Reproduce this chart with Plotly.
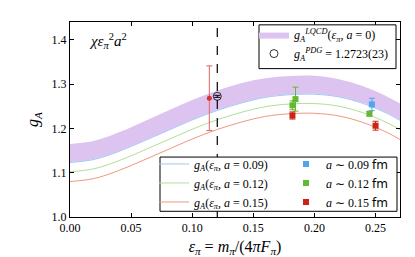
import plotly.graph_objects as go

# ---- data ----
eps_grid = [0.0, 0.02, 0.04, 0.06, 0.08, 0.10, 0.12, 0.14, 0.16, 0.18, 0.20, 0.22, 0.24, 0.26, 0.27]
band_upper = [1.165, 1.172, 1.191, 1.215, 1.240, 1.264, 1.285, 1.302, 1.313, 1.318, 1.319, 1.311, 1.295, 1.271, 1.256]
band_lower = [1.124, 1.131, 1.149, 1.172, 1.196, 1.220, 1.241, 1.258, 1.271, 1.277, 1.278, 1.272, 1.257, 1.234, 1.219]
fit_a09 = [1.123, 1.130, 1.148, 1.171, 1.195, 1.219, 1.240, 1.257, 1.270, 1.276, 1.277, 1.271, 1.256, 1.233, 1.218]
fit_a12 = [1.102, 1.109, 1.127, 1.150, 1.174, 1.198, 1.219, 1.236, 1.249, 1.255, 1.256, 1.250, 1.235, 1.212, 1.197]
fit_a15 = [1.080, 1.087, 1.105, 1.128, 1.152, 1.176, 1.197, 1.214, 1.227, 1.233, 1.234, 1.228, 1.213, 1.190, 1.175]

a09_x = [0.247]
a09_y = [1.254]
a09_err = [0.014]
a12_x = [0.182, 0.1845, 0.245]
a12_y = [1.252, 1.266, 1.233]
a12_err = [0.010, 0.027, 0.005]
a15_x = [0.182, 0.250]
a15_y = [1.229, 1.206]
a15_err = [0.008, 0.010]

extra_x = [0.114]
extra_y = [1.268]
extra_err = [0.073]

eps_phys = 0.1205
pdg_val = 1.2723
pdg_err = 0.0023

x_ticks = [0.0, 0.05, 0.10, 0.15, 0.20, 0.25]
y_ticks = [1.0, 1.1, 1.2, 1.3, 1.4]

SERIF = "Liberation Serif"
fig = go.Figure()

# band (a=0)
fig.add_trace(go.Scatter(x=eps_grid, y=band_lower, mode="lines", line=dict(width=0, shape="spline"),
                         showlegend=False, hoverinfo="skip"))
fig.add_trace(go.Scatter(x=eps_grid, y=band_upper, mode="lines", line=dict(width=0, shape="spline"),
                         fill="tonexty", fillcolor="rgb(221,195,240)",
                         name="<i>g</i><sub><i>A</i></sub><sup><i>LQCD</i></sup>(<i>ε</i><sub><i>π</i></sub>, <i>a</i> = 0)",
                         legend="legend"))

# fit curves
for ys, col, lab in [(fit_a09, "rgb(160,200,245)", "0.09"),
                     (fit_a12, "rgb(180,222,150)", "0.12"),
                     (fit_a15, "rgb(240,150,130)", "0.15")]:
    fig.add_trace(go.Scatter(x=eps_grid, y=ys, mode="lines",
                             line=dict(color=col, width=1, shape="spline"),
                             name=f"<i>g</i><sub><i>A</i></sub>(<i>ε</i><sub><i>π</i></sub>, <i>a</i> = {lab})",
                             legend="legend2"))

# extra red point
fig.add_trace(go.Scatter(x=extra_x, y=extra_y, mode="markers",
                         marker=dict(color="rgb(215,50,50)", size=5, symbol="circle"),
                         error_y=dict(type="data", array=extra_err, color="rgb(225,100,100)",
                                      thickness=1, width=3),
                         showlegend=False))

# data points
for xs, ys, es, col, lab in [(a09_x, a09_y, a09_err, "rgb(80,165,240)", "0.09"),
                             (a12_x, a12_y, a12_err, "rgb(100,185,50)", "0.12"),
                             (a15_x, a15_y, a15_err, "rgb(205,35,20)", "0.15")]:
    fig.add_trace(go.Scatter(x=xs, y=ys, mode="markers",
                             marker=dict(color=col, size=6, symbol="square"),
                             error_y=dict(type="data", array=es, color=col, thickness=1, width=3),
                             name=f"<i>a</i> ∼ {lab} <span style='font-family:DejaVu Sans'>fm</span>",
                             legend="legend3"))

# PDG point
fig.add_trace(go.Scatter(x=[eps_phys], y=[pdg_val], mode="markers",
                         marker=dict(color="rgba(0,0,0,0)", size=8, symbol="circle",
                                     line=dict(color="black", width=0.8)),
                         error_y=dict(type="data", array=[pdg_err], color="black", thickness=1, width=3),
                         name="<i>g</i><sub><i>A</i></sub><sup><i>PDG</i></sup> = 1.2723(23)",
                         legend="legend"))

# dashed physical point line
fig.add_shape(type="line", xref="x", yref="paper", x0=eps_phys, x1=eps_phys, y0=0, y1=1,
              line=dict(color="black", width=1.2, dash="dash"), layer="above")

# legend boxes
def px2paper(px, py):
    return (px - 62) / 330, (218 - py) / 205

bx0, by0 = px2paper(251, 16)
bx1, by1 = px2paper(388, 62)
fig.add_shape(type="rect", xref="paper", yref="paper", x0=bx0, y0=by1, x1=bx1, y1=by0,
              line=dict(color="black", width=1), fillcolor="white", layer="above")
cx0, cy0 = px2paper(152, 155)
cx1, cy1 = px2paper(389, 212)
fig.add_shape(type="rect", xref="paper", yref="paper", x0=cx0, y0=cy1, x1=cx1, y1=cy0,
              line=dict(color="black", width=1), fillcolor="white", layer="above")

lx, ly = px2paper(246, 11)
l2x, l2y = px2paper(146, 147)
l3x, l3y = px2paper(278, 147)
legfont = dict(family=SERIF, size=12, color="black")
fig.update_layout(
    legend=dict(x=lx, y=ly, xanchor="left", yanchor="top", bgcolor="rgba(0,0,0,0)",
                borderwidth=0, font=legfont, tracegroupgap=0, traceorder="normal"),
    legend2=dict(x=l2x, y=l2y, xanchor="left", yanchor="top", bgcolor="rgba(0,0,0,0)",
                 borderwidth=0, font=legfont, tracegroupgap=0, traceorder="normal"),
    legend3=dict(x=l3x, y=l3y, xanchor="left", yanchor="top", bgcolor="rgba(0,0,0,0)",
                 borderwidth=0, font=legfont, tracegroupgap=0, traceorder="normal"),
)

fig.add_annotation(xref="paper", yref="paper", x=px2paper(79, 33)[0], y=px2paper(79, 33)[1],
                   xanchor="left", yanchor="middle", showarrow=False,
                   text="<i>χε</i><sub><i>π</i></sub><sup>2</sup><i>a</i><sup>2</sup>",
                   font=dict(family=SERIF, size=15, color="black"))

axis_common = dict(showgrid=False, zeroline=False, showline=True, linecolor="black", linewidth=1,
                   mirror="ticks", ticks="inside", ticklen=4, tickwidth=1, tickcolor="black",
                   tickfont=dict(family=SERIF, size=12, color="black"))
fig.update_xaxes(range=[0, 0.27], tickvals=x_ticks, ticktext=[f"{v:.2f}" for v in x_ticks],
                 title=dict(text="<i>ε</i><sub><i>π</i></sub> = <i>m</i><sub><i>π</i></sub>/(4<i>πF</i><sub><i>π</i></sub>)",
                            font=dict(family=SERIF, size=16, color="black"), standoff=6),
                 **axis_common)
fig.update_yaxes(range=[1.0, 1.44], tickvals=y_ticks, ticktext=[f"{v:.1f}" for v in y_ticks],
                 title=dict(text="<i>g</i><sub><i>A</i></sub>",
                            font=dict(family=SERIF, size=16, color="black"), standoff=8),
                 **axis_common)

fig.update_layout(width=415, height=257, margin=dict(l=62, r=23, t=13, b=39),
                  plot_bgcolor="white", paper_bgcolor="white", showlegend=True)

fig.write_html("out.html")
